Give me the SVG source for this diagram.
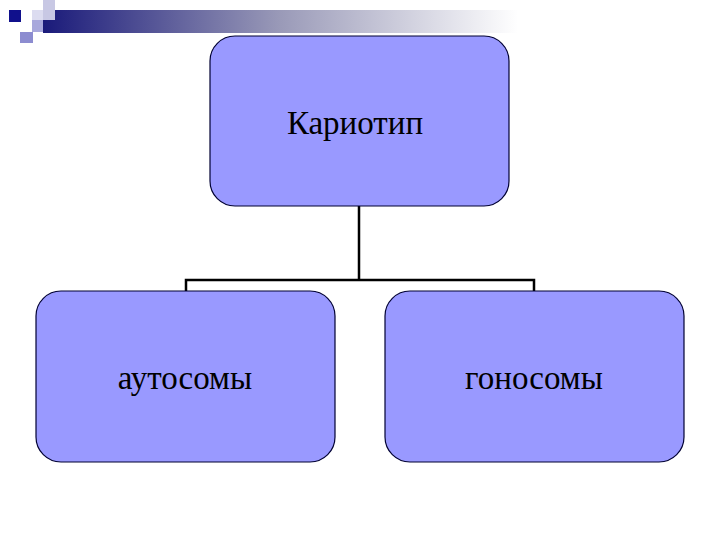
<svg xmlns="http://www.w3.org/2000/svg" width="720" height="540" viewBox="0 0 720 540">
<defs>
<linearGradient id="bar" x1="0" y1="0" x2="1" y2="0">
<stop offset="0" stop-color="#1a1a7a"/>
<stop offset="0.5" stop-color="#9a9ab8"/>
<stop offset="1" stop-color="#ffffff"/>
</linearGradient>
<style>
.node{fill:#9999ff;stroke:#000033;stroke-width:1.2}
.lbl{font-family:"Liberation Serif","Times New Roman",serif;font-size:33px;fill:#000;text-anchor:middle}
.conn{fill:none;stroke:#000;stroke-width:2.5}
</style>
</defs>
<rect width="720" height="540" fill="#fff"/>
<g id="header">
<rect x="43" y="10" width="475" height="23" fill="url(#bar)"/>
<rect x="43" y="0" width="12" height="20" fill="#c8c8e4"/>
<rect x="32" y="10" width="11" height="10" fill="#dcdcf0"/>
<rect x="32" y="20" width="11" height="12" fill="#a8a8dc"/>
<rect x="20" y="32" width="13" height="11" fill="#8c8cd0"/>
<rect x="9" y="10" width="12" height="12" fill="#10108c"/>
</g>
<g id="connectors">
<path class="conn" d="M359,206 V280 M186,291 V280 H534 V291"/>
</g>
<g id="karyotype">
<rect class="node" x="210" y="36" width="299" height="170" rx="25"/>
<text class="lbl" x="355" y="134">Кариотип</text>
</g>
<g id="autosomes">
<rect class="node" x="36" y="291" width="299" height="171" rx="25"/>
<text class="lbl" x="185" y="389">аутосомы</text>
</g>
<g id="gonosomes">
<rect class="node" x="385" y="291" width="299" height="171" rx="25"/>
<text class="lbl" x="534" y="389">гоносомы</text>
</g>
</svg>
